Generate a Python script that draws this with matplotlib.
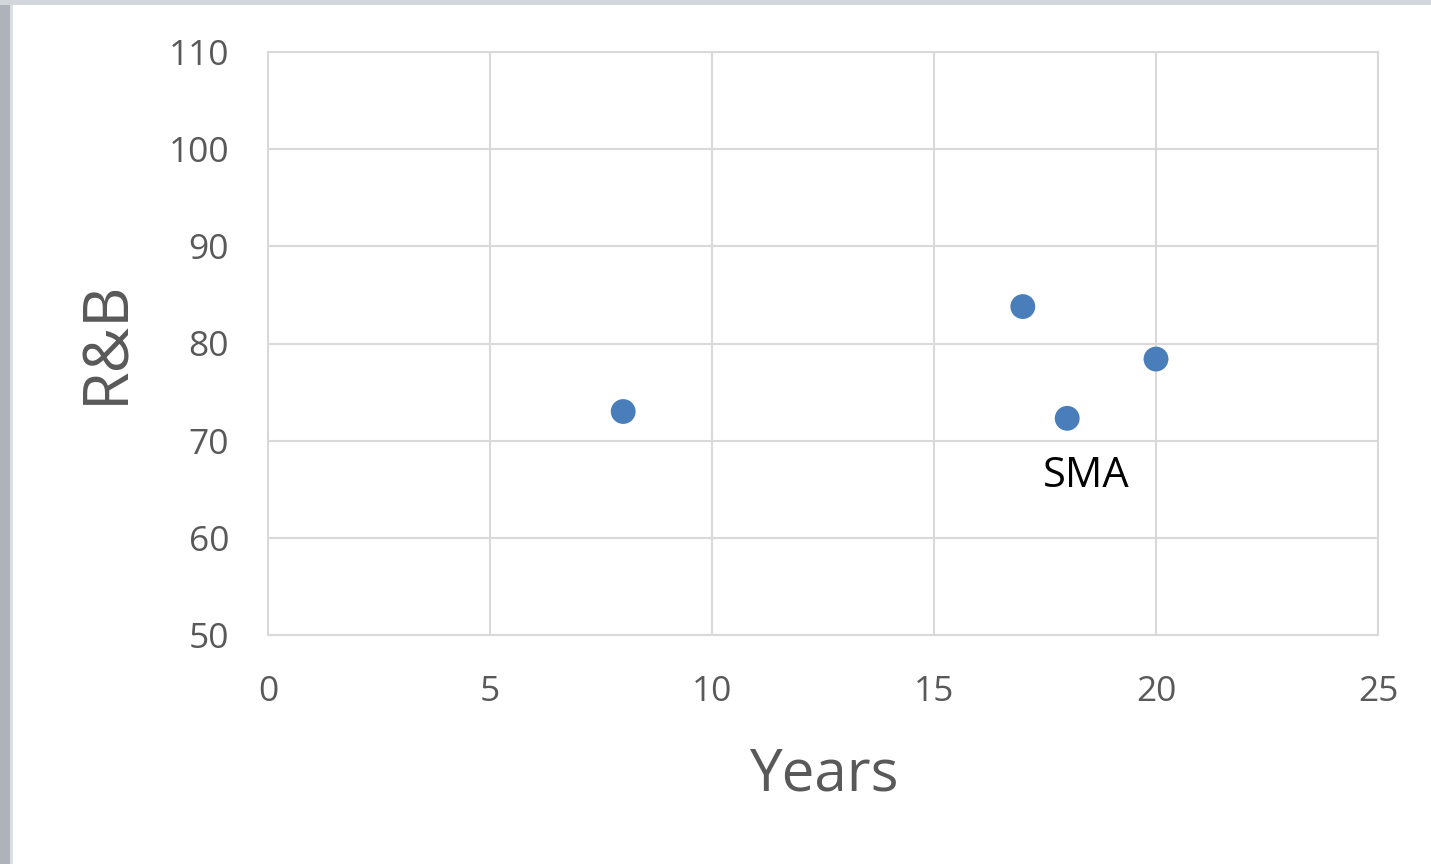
import matplotlib
matplotlib.use("Agg")
import matplotlib.pyplot as plt
from matplotlib.patches import Rectangle

years = [8, 17, 18, 20]
rnb = [73.0, 83.8, 72.3, 78.4]
label_text = "SMA"
label_pos = (18.42, 66.4)

x_ticks = [0, 5, 10, 15, 20, 25]
y_ticks = [50, 60, 70, 80, 90, 100, 110]

plt.rcParams['font.family'] = ['Open Sans', 'DejaVu Sans']

W, H = 1431, 864
fig = plt.figure(figsize=(W / 100, H / 100), dpi=100)
fig.patch.set_facecolor('white')

# screenshot frame edges
fig.patches.append(Rectangle((0, 0), 10 / W, 1, transform=fig.transFigure,
                             facecolor='#aeb3bb', edgecolor='none', zorder=0))
fig.patches.append(Rectangle((10 / W, 0), 3 / W, 1, transform=fig.transFigure,
                             facecolor='#dcdee2', edgecolor='none', zorder=0))
fig.patches.append(Rectangle((0, 1 - 5 / H), 1, 5 / H, transform=fig.transFigure,
                             facecolor='#d3d6db', edgecolor='none', zorder=0))

ax = fig.add_axes([268 / W, 1 - 635 / H, (1378 - 268) / W, (635 - 52) / H])
ax.set_xlim(0, 25)
ax.set_ylim(50, 110)
ax.set_xticks(x_ticks)
ax.set_yticks(y_ticks)
ax.grid(True, color='#d9d9d9', linewidth=1.5)
ax.set_axisbelow(True)
for s in ax.spines.values():
    s.set_color('#d9d9d9')
    s.set_linewidth(1.5)
ax.tick_params(length=0, labelsize=25.5, labelcolor='#595959')
ax.tick_params(axis='x', pad=29)
ax.tick_params(axis='y', pad=28)

ax.scatter(years, rnb, s=320, color='#4a7ebb', edgecolors='none', zorder=3)
ax.text(label_pos[0], label_pos[1], label_text, fontsize=30, color='black',
        ha='center', va='center')

fig.text(824 / W, 1 - 775 / H, 'Years', fontsize=42, color='#595959',
         ha='center', va='center')
fig.text(107 / W, 1 - 342 / H, 'R&B', fontsize=45, color='#595959',
         ha='center', va='center', rotation=90)

fig.savefig('out.png', dpi=100)
